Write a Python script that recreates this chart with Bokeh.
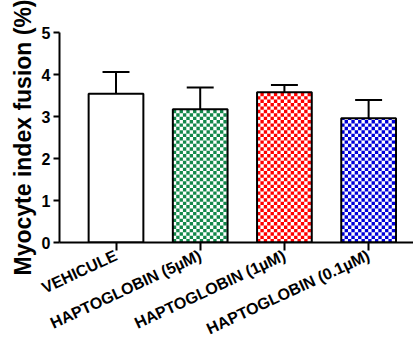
import numpy as np
from bokeh.plotting import figure
from bokeh.models import Range1d, FixedTicker
from bokeh.embed import file_html
from bokeh.resources import INLINE

categories = ["VEHICULE", "HAPTOGLOBIN (5µM)", "HAPTOGLOBIN (1µM)", "HAPTOGLOBIN (0.1µM)"]
means = [3.54, 3.17, 3.58, 2.96]
errors = [0.52, 0.52, 0.17, 0.43]
colors = [None, "#13884a", "#ff0000", "#0000d8"]
y_ticks = [0, 1, 2, 3, 4, 5]

FONT = "Liberation Sans"
bar_w = 0.65
cell_x = 0.04
cell_y = 0.081

p = figure(frame_width=354, frame_height=210, output_backend="svg", toolbar_location=None,
           x_range=Range1d(-0.671, 3.533), y_range=Range1d(0, 5),
           min_border_left=59, min_border_top=32, min_border_right=0, min_border_bottom=0)
p.outline_line_color = None
p.xgrid.visible = False
p.ygrid.visible = False

xs = np.arange(len(categories))
# white base bars
p.vbar(x=xs, top=means, width=bar_w, bottom=0, fill_color="white", line_color=None)

# checker pattern
cx, cy, cc = [], [], []
for i, (m, c) in enumerate(zip(means, colors)):
    if c is None:
        continue
    left = xs[i] - bar_w / 2
    ncol = int(np.ceil(bar_w / cell_x))
    nrow = int(np.ceil(m / cell_y))
    for r in range(nrow):
        for k in range(ncol):
            if (r + k) % 2 == 0:
                x0 = left + k * cell_x
                x1 = min(x0 + cell_x, left + bar_w)
                y0 = r * cell_y
                y1 = min(y0 + cell_y, m)
                cx.append((x0, x1)); cy.append((y0, y1)); cc.append(c)
if cx:
    p.quad(left=[a for a, b in cx], right=[b for a, b in cx],
           bottom=[a for a, b in cy], top=[b for a, b in cy],
           fill_color=cc, line_color=None)

# error bars (upper only)
uppers = [m + e for m, e in zip(means, errors)]
p.segment(x0=xs, y0=means, x1=xs, y1=uppers, line_color="black", line_width=2)
p.segment(x0=xs - 0.16, y0=uppers, x1=xs + 0.16, y1=uppers, line_color="black", line_width=2)

# bar outlines
p.vbar(x=xs, top=means, width=bar_w, bottom=0, fill_color=None, line_color="black", line_width=2)

# axes
p.xaxis.ticker = FixedTicker(ticks=list(xs))
p.xaxis.major_label_overrides = {int(i): c for i, c in zip(xs, categories)}
p.xaxis.major_label_orientation = np.deg2rad(25)
p.xaxis.minor_tick_line_color = None
p.xaxis.major_tick_in = 0
p.xaxis.major_tick_out = 8
p.xaxis.major_label_standoff = 4
p.yaxis.ticker = FixedTicker(ticks=y_ticks)
p.yaxis.minor_tick_line_color = None
p.yaxis.major_tick_in = 0
p.yaxis.major_tick_out = 6
p.yaxis.major_label_standoff = 3
for ax in (p.xaxis, p.yaxis):
    ax.axis_line_width = 2
    ax.major_tick_line_width = 2
    ax.axis_line_color = "black"
    ax.major_tick_line_color = "black"
    ax.major_label_text_font = FONT
    ax.major_label_text_font_style = "bold"
    ax.major_label_text_color = "black"
p.xaxis.major_label_text_font_size = "16px"
p.yaxis.major_label_text_font_size = "16px"
p.yaxis.axis_label = "Myocyte index fusion (%)"
p.yaxis.axis_label_text_font = FONT
p.yaxis.axis_label_text_font_style = "bold"
p.yaxis.axis_label_text_font_size = "23px"
p.yaxis.axis_label_text_color = "black"
p.yaxis.axis_label_standoff = 3

open("out.html", "w").write(file_html(p, INLINE))
